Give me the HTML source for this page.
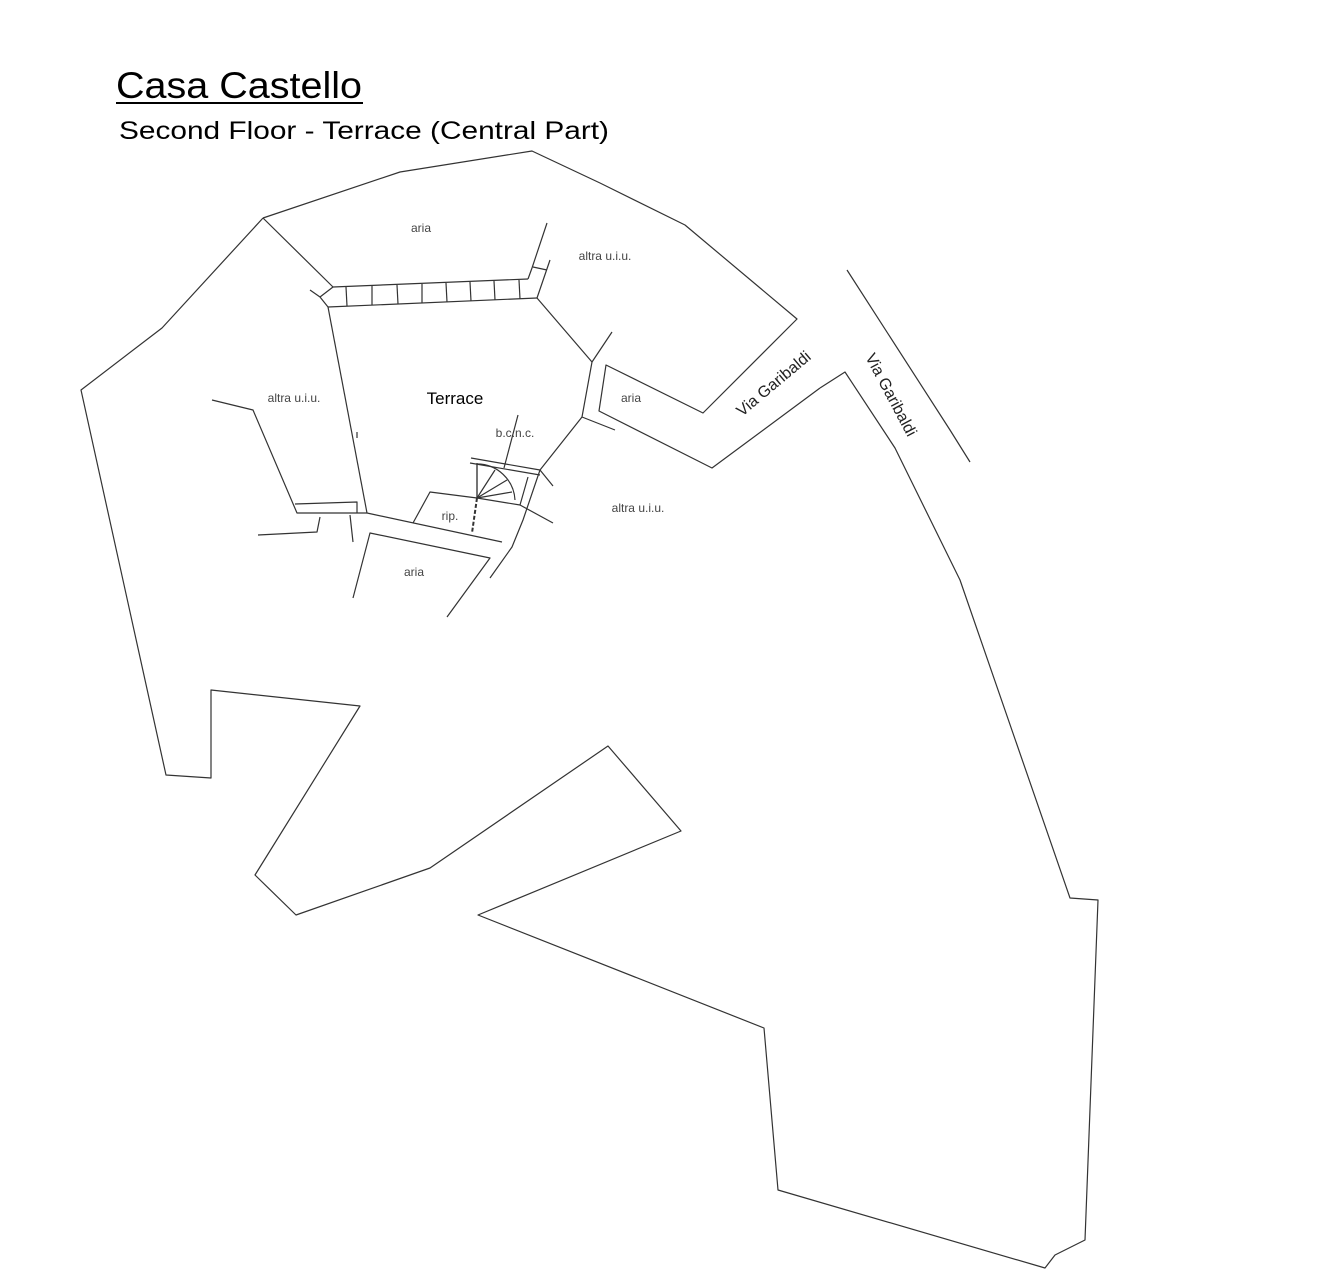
<!DOCTYPE html>
<html><head><meta charset="utf-8"><style>
html,body{margin:0;padding:0;background:#fff;}
svg{display:block;}
text{font-family:"Liberation Sans",sans-serif;}
</style></head><body>
<svg width="1344" height="1286" viewBox="0 0 1344 1286" xmlns="http://www.w3.org/2000/svg">
<text x="116" y="98" font-size="37" fill="#000" textLength="246" lengthAdjust="spacingAndGlyphs">Casa Castello</text>
<line x1="116" y1="103" x2="363" y2="103" stroke="#000" stroke-width="2"/>
<text x="119" y="139" font-size="25" fill="#000" textLength="490" lengthAdjust="spacingAndGlyphs">Second Floor - Terrace (Central Part)</text>
<g fill="none" stroke="#333" stroke-width="1.2" stroke-linejoin="round">
<polyline points="263,218 400,172 532,151 600,183 685,225 797,319 703,413 606,365 599,411 712,468 820,388"/>
<polyline points="820,388 845,372 895,448 960,580 1070,898 1098,900 1085,1240 1055,1255 1045,1268 778,1190 764,1028 478,915 681,831 608,746 430,868 296,915 255,875 360,706 211,690 211,778 166,775 81,390 162,328 263,218"/>
<polyline points="847,270 950,430 970,462"/>
<polyline points="263,218 333,287"/>
<polyline points="333,287 528,279"/>
<polyline points="328,307 537,298"/>
<polyline points="310,290 320,297 328,307"/>
<polyline points="320,297 333,287"/>
<line x1="346" y1="287" x2="347" y2="306"/><line x1="372" y1="286" x2="372" y2="305"/>
<line x1="397" y1="285" x2="398" y2="304"/><line x1="422" y1="284" x2="422" y2="303"/>
<line x1="446" y1="283" x2="447" y2="302"/><line x1="470" y1="282" x2="471" y2="301"/>
<line x1="494" y1="281" x2="495" y2="300"/><line x1="519" y1="280" x2="520" y2="299"/>
<polyline points="528,279 532,268 547,223"/>
<polyline points="550,260 537,298"/>
<line x1="533" y1="267" x2="547" y2="270"/>
<polyline points="537,298 592,362 612,332"/>
<polyline points="592,362 582,417 615,430"/>
<polyline points="582,417 540,470 523,520 512,547 490,578"/>
<polyline points="520,505 553,523"/>
<polyline points="328,307 367,513"/>
<polyline points="212,400 253,410 297,513 367,513"/>
<polyline points="295,504 357,502 357,513"/>
<polyline points="367,513 502,542"/>
<polyline points="258,535 317,532 320,517"/>
<polyline points="350,515 353,542"/>
<polyline points="353,598 370,533 490,558 447,617"/>
<polyline points="413,523 430,492 477,498 520,505"/>
<polyline points="471,458 540,470 553,486"/>
<polyline points="470,463 540,475"/>
<polyline points="477,463 477,498"/>
<polyline points="477,498 472,533" stroke-dasharray="4,2" stroke-width="2"/>
<path d="M477,498 L477,464 A38,38 0 0 1 515,500"/>
<line x1="477" y1="498" x2="495" y2="470"/><line x1="477" y1="498" x2="507" y2="480"/><line x1="477" y1="498" x2="512" y2="492"/>
<line x1="518" y1="415" x2="504" y2="468"/>
<line x1="520" y1="505" x2="528" y2="477"/>
<line x1="357" y1="432" x2="357" y2="438"/>
</g>
<g font-size="12" fill="#444">
<text x="421" y="232" text-anchor="middle">aria</text>
<text x="605" y="260" text-anchor="middle">altra u.i.u.</text>
<text x="294" y="402" text-anchor="middle">altra u.i.u.</text>
<text x="515" y="437" text-anchor="middle">b.c.n.c.</text>
<text x="631" y="402" text-anchor="middle">aria</text>
<text x="450" y="520" text-anchor="middle">rip.</text>
<text x="638" y="512" text-anchor="middle">altra u.i.u.</text>
<text x="414" y="576" text-anchor="middle">aria</text>
</g>
<text x="455" y="404" font-size="17" text-anchor="middle" fill="#000">Terrace</text>
<text x="0" y="0" font-size="16" fill="#222" transform="translate(742,417) rotate(-40)">Via Garibaldi</text>
<text x="0" y="0" font-size="16" fill="#222" transform="translate(865,357) rotate(62)">Via Garibaldi</text>
</svg>
</body></html>
